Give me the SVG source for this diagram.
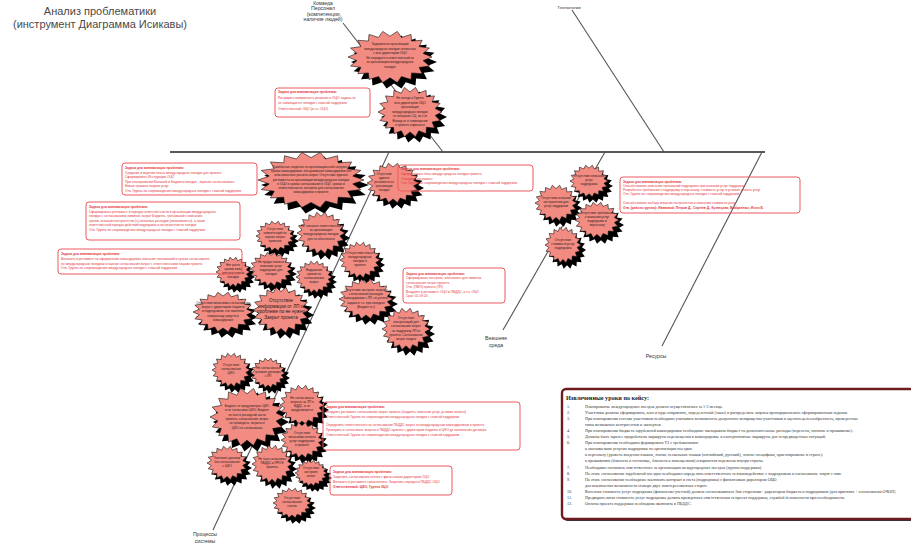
<svg xmlns="http://www.w3.org/2000/svg" xmlns:xlink="http://www.w3.org/1999/xlink" width="911" height="544" viewBox="0 0 911 544">
<style>
.bf{fill:#f28c82;stroke:#111;stroke-width:0.6}
.sh{fill:#000;stroke:none}
.bt{font-family:"Liberation Sans",Arial,sans-serif;font-size:3.1px;fill:#2a1a1a;text-anchor:middle}
.tb{fill:none;stroke:#ee5a5f;stroke-width:1;rx:3}
.tt{font-family:"Liberation Sans",Arial,sans-serif;font-size:3.2px;fill:#e3343c}
.tt .h{font-weight:bold}
.lbl{font-family:"Liberation Sans",Arial,sans-serif;font-size:5.2px;fill:#333;text-anchor:middle}
.ttl{font-family:"Liberation Sans",Arial,sans-serif;font-size:11px;fill:#4a4a4a;text-anchor:middle}
.bone{stroke:#555;stroke-width:1.1;fill:none}
.ls{font-family:"Liberation Serif","Times New Roman",serif;font-size:4.1px;fill:#333}
</style>
<defs>
<path id="burst" vector-effect="non-scaling-stroke" d="M1,0 L0.788,0.139 L0.94,0.342 L0.693,0.4 L0.766,0.643 L0.514,0.613 L0.5,0.866 L0.274,0.752 L0.174,0.985 L0,0.8 L-0.174,0.985 L-0.274,0.752 L-0.5,0.866 L-0.514,0.613 L-0.766,0.643 L-0.693,0.4 L-0.94,0.342 L-0.788,0.139 L-1,0 L-0.788,-0.139 L-0.94,-0.342 L-0.693,-0.4 L-0.766,-0.643 L-0.514,-0.613 L-0.5,-0.866 L-0.274,-0.752 L-0.174,-0.985 L0,-0.8 L0.174,-0.985 L0.274,-0.752 L0.5,-0.866 L0.514,-0.613 L0.766,-0.643 L0.693,-0.4 L0.94,-0.342 L0.788,-0.139 Z"/>
</defs>
<rect width="911" height="544" fill="#fff"/>

<g id="title">
<text class="ttl" x="100" y="15">Анализ проблематики</text>
<text class="ttl" x="100" y="28">(инструмент Диаграмма Исикавы)</text>
</g>

<g id="connectors">
<path d="M170,152 H765" stroke="#222" stroke-width="1.3" fill="none"/>
<path class="bone" d="M343,23 L443,152"/>
<path class="bone" d="M572,10 L664,152"/>
<path class="bone" d="M389,152 L213,530"/>
<path class="bone" d="M605,152 L503,330"/>
<path class="bone" d="M762,152 L662,346"/>
</g>

<g id="labels">
<text class="lbl" x="323" y="4.6" style="font-size:4.8px">Команда</text>
<text class="lbl" x="323" y="10">Персонал</text>
<text class="lbl" x="324" y="15.6">(компетенции,</text>
<text class="lbl" x="323" y="21.2">наличие людей)</text>
<text class="lbl" x="569" y="9" style="font-size:4.4px">Технологии</text>
<text class="lbl" x="496" y="340">Внешняя</text>
<text class="lbl" x="496" y="347">среда</text>
<text class="lbl" x="656" y="358">Ресурсы</text>
<text class="lbl" x="205" y="536">Процессы</text>
<text class="lbl" x="205" y="543">системы</text>
</g>

<g id="n1"><use href="#burst" class="sh" transform="translate(394,62) scale(43,27)"/><use href="#burst" class="bf" transform="translate(390,57) scale(42,26)"/>
<text class="bt" x="390" y="45"><tspan x="390">Задержки по организации</tspan><tspan x="390" dy="4.6">международных поездок связанных</tspan><tspan x="390" dy="4.6">с мне директором ОЦО</tspan><tspan x="390" dy="4.6">Не передается ответственный за</tspan><tspan x="390" dy="4.6">за организацию международных</tspan><tspan x="390" dy="4.6">поездок</tspan></text></g>

<g id="n2"><use href="#burst" class="sh" transform="translate(414,117) scale(33,26)"/><use href="#burst" class="bf" transform="translate(410,112) scale(32,25)"/>
<text class="bt" x="410" y="99"><tspan x="410">Не всегда в Группе</tspan><tspan x="410" dy="4.5">мне директором ОЦО</tspan><tspan x="410" dy="4.5">организация</tspan><tspan x="410" dy="4.5">международных поездок</tspan><tspan x="410" dy="4.5">не получала СЦ, ни к от</tspan><tspan x="410" dy="4.5">Вывод не о совмещение</tspan><tspan x="410" dy="4.5">в проекте и финансе</tspan></text></g>

<g id="n3"><use href="#burst" class="sh" transform="translate(315,185) scale(54,29)"/><use href="#burst" class="bf" transform="translate(311,180) scale(53,28)"/>
<text class="bt" x="311" y="168"><tspan x="311">Ошибочные сведения по организационной нагрузке и</tspan><tspan x="311" dy="4.2">сроках командировки, обслуживания командировки без</tspan><tspan x="311" dy="4.2">обоснованного расчета затрат. Отсутствие единого</tspan><tspan x="311" dy="4.2">регламента по организации международных поездок</tspan><tspan x="311" dy="4.2">в ОЦО и сроках согласования в ОЦО, сроках и</tspan><tspan x="311" dy="4.2">ответственности, контроля для согласования</tspan><tspan x="311" dy="4.2">командировок в проекте</tspan></text></g>

<g id="n4"><use href="#burst" class="sh" transform="translate(397,188) scale(27,21)"/><use href="#burst" class="bf" transform="translate(393,183) scale(26,20)"/>
<text class="bt" x="384" y="175" style="font-size:2.9px"><tspan x="384">Отсутствие</tspan><tspan x="384" dy="4.1">единого</tspan><tspan x="384" dy="4.1">регламента по</tspan><tspan x="384" dy="4.1">организации</tspan><tspan x="384" dy="4.1">поездок</tspan></text></g>

<g id="n5"><use href="#burst" class="sh" transform="translate(279,241) scale(20,16)"/><use href="#burst" class="bf" transform="translate(275,236) scale(19,15)"/>
<text class="bt" x="275" y="230"><tspan x="275">Отсутствие</tspan><tspan x="275" dy="4.1">компетенций по</tspan><tspan x="275" dy="4.1">оценке затрат</tspan><tspan x="275" dy="4.1">проектов</tspan></text></g>

<g id="n6"><use href="#burst" class="sh" transform="translate(325,238) scale(25,22)"/><use href="#burst" class="bf" transform="translate(321,233) scale(24,21)"/>
<text class="bt" x="321" y="227"><tspan x="321">Не назначен ответственный</tspan><tspan x="321" dy="4.2">за организацию</tspan><tspan x="321" dy="4.2">международных поездок</tspan><tspan x="321" dy="4.2">для не обеспечено</tspan></text></g>

<g id="n7"><use href="#burst" class="sh" transform="translate(364,265) scale(21,19)"/><use href="#burst" class="bf" transform="translate(360,260) scale(20,18)"/>
<text class="bt" x="360" y="254"><tspan x="360">Отсутствие плана</tspan><tspan x="360" dy="4.1">международных</tspan><tspan x="360" dy="4.1">поездок в</tspan><tspan x="360" dy="4.1">проекте</tspan></text></g>

<g id="n8"><use href="#burst" class="sh" transform="translate(237,277) scale(18,16)"/><use href="#burst" class="bf" transform="translate(233,272) scale(17,15)"/>
<text class="bt" x="233" y="266"><tspan x="233">Нет учёта</tspan><tspan x="233" dy="4.1">сроков визы</tspan><tspan x="233" dy="4.1">для участников</tspan><tspan x="233" dy="4.1">поездки</tspan></text></g>

<g id="n9"><use href="#burst" class="sh" transform="translate(275,274) scale(22,18)"/><use href="#burst" class="bf" transform="translate(271,269) scale(21,17)"/>
<text class="bt" x="271" y="263"><tspan x="271">Не предоставлено</tspan><tspan x="271" dy="4.1">описание услуг</tspan><tspan x="271" dy="4.1">подрядчика для</tspan><tspan x="271" dy="4.1">поездки</tspan></text></g>

<g id="n10"><use href="#burst" class="sh" transform="translate(318,282) scale(19,17)"/><use href="#burst" class="bf" transform="translate(314,277) scale(18,16)"/>
<text class="bt" x="314" y="271"><tspan x="314">Нарушение</tspan><tspan x="314" dy="4.1">сроков по</tspan><tspan x="314" dy="4.1">согласованию</tspan><tspan x="314" dy="4.1">затрат</tspan></text></g>

<g id="n11"><use href="#burst" class="sh" transform="translate(227,317) scale(31,21)"/><use href="#burst" class="bf" transform="translate(223,312) scale(30,20)"/>
<text class="bt" x="223" y="304"><tspan x="223">Отсутствие механизма согласования</tspan><tspan x="223" dy="4.2">затрат с директором бюджета</tspan><tspan x="223" dy="4.2">и подрядчиком, что повлекло</tspan><tspan x="223" dy="4.2">перерасход средств в</tspan><tspan x="223" dy="4.2">командировке</tspan></text></g>

<g id="n12"><use href="#burst" class="sh" transform="translate(285,315) scale(29,24)"/><use href="#burst" class="bf" transform="translate(281,310) scale(28,23)"/>
<text class="bt" x="281" y="302" style="font-size:4.6px"><tspan x="281">Отсутствие</tspan><tspan x="281" dy="5.5">информации от ЛП о</tspan><tspan x="281" dy="5.5">проблеме по не нужно</tspan><tspan x="281" dy="5.5">Закрыт проекта</tspan></text></g>

<g id="n13"><use href="#burst" class="sh" transform="translate(370,304) scale(28,21)"/><use href="#burst" class="bf" transform="translate(366,299) scale(27,20)"/>
<text class="bt" x="366" y="291"><tspan x="366">Отсутствие контроля затрат и</tspan><tspan x="366" dy="4.2">согласования расходов</tspan><tspan x="366" dy="4.2">командировки с ЛП, не учтены</tspan><tspan x="366" dy="4.2">задачи в т.ч. при поездках</tspan><tspan x="366" dy="4.2">(Бюджет и с)</tspan></text></g>

<g id="n14"><use href="#burst" class="sh" transform="translate(410,334) scale(25,22)"/><use href="#burst" class="bf" transform="translate(406,329) scale(24,21)"/>
<text class="bt" x="406" y="319"><tspan x="406">Отсутствие</tspan><tspan x="406" dy="4.2">консультаций для</tspan><tspan x="406" dy="4.2">согласования затрат</tspan><tspan x="406" dy="4.2">на поддержку ЛП от</tspan><tspan x="406" dy="4.2">проекта. Согласование</tspan><tspan x="406" dy="4.2">затрат поздно</tspan></text></g>

<g id="n15"><use href="#burst" class="sh" transform="translate(593,186) scale(20,17)"/><use href="#burst" class="bf" transform="translate(589,181) scale(19,16)"/>
<text class="bt" x="589" y="177"><tspan x="589">Отсутствие описания</tspan><tspan x="589" dy="4.1">услуг</tspan><tspan x="589" dy="4.1">подрядчика</tspan></text></g>

<g id="n16"><use href="#burst" class="sh" transform="translate(560,208) scale(22,19)"/><use href="#burst" class="bf" transform="translate(556,203) scale(21,18)"/>
<text class="bt" x="556" y="199"><tspan x="556">Отсутствие внешних</tspan><tspan x="556" dy="4.1">контрагентов для</tspan><tspan x="556" dy="4.1">услуг поддержки</tspan></text></g>

<g id="n17"><use href="#burst" class="sh" transform="translate(601,225) scale(23,19)"/><use href="#burst" class="bf" transform="translate(597,220) scale(22,18)"/>
<text class="bt" x="597" y="214"><tspan x="597">Отсутствие требований</tspan><tspan x="597" dy="4.1">к оказанию услуг</tspan><tspan x="597" dy="4.1">подрядчика и</tspan><tspan x="597" dy="4.1">персоналу</tspan></text></g>

<g id="n18"><use href="#burst" class="sh" transform="translate(567,250) scale(19,19)"/><use href="#burst" class="bf" transform="translate(563,245) scale(18,18)"/>
<text class="bt" x="563" y="241"><tspan x="563">Отсутствие</tspan><tspan x="563" dy="4.1">стоимости услуг</tspan><tspan x="563" dy="4.1">подрядчика</tspan></text></g>

<g id="n19"><use href="#burst" class="sh" transform="translate(235,375) scale(20,18)"/><use href="#burst" class="bf" transform="translate(231,370) scale(19,17)"/>
<text class="bt" x="231" y="366"><tspan x="231">Отсутствие</tspan><tspan x="231" dy="4.1">согласования</tspan><tspan x="231" dy="4.1">ЦФО</tspan></text></g>

<g id="n20"><use href="#burst" class="sh" transform="translate(272,378) scale(18,16)"/><use href="#burst" class="bf" transform="translate(268,373) scale(17,15)"/>
<text class="bt" x="268" y="369"><tspan x="268">Не согласованы</tspan><tspan x="268" dy="4.1">условия договора</tspan><tspan x="268" dy="4.1">с ЛП</tspan></text></g>

<g id="n21"><use href="#burst" class="sh" transform="translate(251,422) scale(38,30)"/><use href="#burst" class="bf" transform="translate(247,417) scale(37,29)"/>
<text class="bt" x="247" y="407"><tspan x="247">Бюджет не предусмотрен ЦФО</tspan><tspan x="247" dy="4.3">и не согласован ЦФО. Бюджет</tspan><tspan x="247" dy="4.3">не был в расходной части</tspan><tspan x="247" dy="4.3">проекта, согласование затрат</tspan><tspan x="247" dy="4.3">не проведено, затраты в</tspan><tspan x="247" dy="4.3">ЦФО не согласованы</tspan></text></g>

<g id="n22"><use href="#burst" class="sh" transform="translate(306,410) scale(23,21)"/><use href="#burst" class="bf" transform="translate(302,405) scale(22,20)"/>
<text class="bt" x="302" y="399"><tspan x="302">Не согласованы</tspan><tspan x="302" dy="4.1">затраты на ЛП в</tspan><tspan x="302" dy="4.1">БДДС, и не</tspan><tspan x="302" dy="4.1">предусмотрено</tspan></text></g>

<g id="n23"><use href="#burst" class="sh" transform="translate(306,445) scale(22,19)"/><use href="#burst" class="bf" transform="translate(302,440) scale(21,18)"/>
<text class="bt" x="302" y="434"><tspan x="302">Отсутствие</tspan><tspan x="302" dy="4.1">механизма оплаты</tspan><tspan x="302" dy="4.1">услуг подрядчика</tspan><tspan x="302" dy="4.1">в проекте</tspan></text></g>

<g id="n24"><use href="#burst" class="sh" transform="translate(231,468) scale(21,18)"/><use href="#burst" class="bf" transform="translate(227,463) scale(20,17)"/>
<text class="bt" x="227" y="459"><tspan x="227">Заключен договор</tspan><tspan x="227" dy="4.1">без согласования</tspan><tspan x="227" dy="4.1">с ЦФО</tspan></text></g>

<g id="n25"><use href="#burst" class="sh" transform="translate(276,469) scale(21,20)"/><use href="#burst" class="bf" transform="translate(272,464) scale(20,19)"/>
<text class="bt" x="272" y="460"><tspan x="272">Не был согласован</tspan><tspan x="272" dy="4.1">ПБДДС и ПРОФ</tspan><tspan x="272" dy="4.1">проекта</tspan></text></g>

<g id="n26"><use href="#burst" class="sh" transform="translate(315,478) scale(17,14)"/><use href="#burst" class="bf" transform="translate(311,473) scale(16,13)"/>
<text class="bt" x="311" y="469"><tspan x="311">Отсутствие</tspan><tspan x="311" dy="4.1">контроля</tspan><tspan x="311" dy="4.1">оплат</tspan></text></g>

<g id="n27"><use href="#burst" class="sh" transform="translate(296,508) scale(20,16)"/><use href="#burst" class="bf" transform="translate(292,503) scale(19,15)"/>
<text class="bt" x="292" y="499"><tspan x="292">Отсутствие</tspan><tspan x="292" dy="4.1">согласования</tspan><tspan x="292" dy="4.1">счетов</tspan></text></g>

<g id="tA"><rect class="tb" x="275" y="88" width="95" height="29"/>
<text class="tt" x="278" y="93"><tspan x="278" class="h">Задача для минимизации проблемы:</tspan><tspan x="278" dy="5.5">Расширить возможность решения в ОЦО: задача не</tspan><tspan x="278" dy="5.5">не совмещается поездки с главной поддержки</tspan><tspan x="278" dy="5.5">Ответственный: ОЦО (и т.ч. ОЦО)</tspan></text></g>

<g id="tB"><rect class="tb" x="122" y="163" width="135" height="32"/>
<text class="tt" x="125" y="169"><tspan x="125" class="h">Задача для минимизации проблемы:</tspan><tspan x="125" dy="4.5">Создание и ведение плана международных поездок для проекта</tspan><tspan x="125" dy="4.5">Сформировать Инструкцию ОЦО</tspan><tspan x="125" dy="4.5">При планировании Внешней и Бюджета поездок - заранее согласовывать</tspan><tspan x="125" dy="4.5">Новые правила закупок услуг</tspan><tspan x="125" dy="4.5">Отв. Группа по сопровождению международных поездок с главной поддержки</tspan></text></g>

<g id="tC"><rect class="tb" x="86" y="202" width="154" height="38"/>
<text class="tt" x="89" y="208"><tspan x="89" class="h">Задача для минимизации проблемы:</tspan><tspan x="89" dy="4.6">Сформировать регламент и порядок ответственности и организации международных</tspan><tspan x="89" dy="4.6">поездок с согласованием лимитов, затрат Бюджета, требований к описанию</tspan><tspan x="89" dy="4.6">сроков, внешних контрагентов (с) ключевых расходов (оплачивается), а также</tspan><tspan x="89" dy="4.6">ответственный порядок действий подрядчика и контрагентов по поездке</tspan><tspan x="89" dy="4.6">Отв. Группа по сопровождению международных поездок с главной поддержки</tspan></text></g>

<g id="tD"><rect class="tb" x="58" y="249" width="184" height="25"/>
<text class="tt" x="61" y="255"><tspan x="61" class="h">Задача для минимизации проблемы:</tspan><tspan x="61" dy="4.8">Включить в регламент по оформлению командировок описание полномочий и сроков согласования</tspan><tspan x="61" dy="4.8">по международным поездкам и оценки согласования затрат с ответственными лицами проекта</tspan><tspan x="61" dy="4.8">Отв. Группа по сопровождению международных поездок с главной поддержки</tspan></text></g>

<g id="tE"><rect class="tb" x="398" y="165" width="135" height="26"/>
<text class="tt" x="401" y="170"><tspan x="401" class="h">Задача для минимизации проблемы:</tspan><tspan x="401" dy="4.8">Сформировать план международных поездок проекта</tspan><tspan x="401" dy="4.8">Утвердить регламент</tspan><tspan x="401" dy="4.8">Отв. Группа по сопровождению международных поездок с главной поддержки</tspan></text></g>

<g id="tF"><rect class="tb" x="403" y="268" width="102" height="35"/>
<text class="tt" x="406" y="275"><tspan x="406" class="h">Задача для минимизации проблемы:</tspan><tspan x="406" dy="4.4">Сформировать контроль, обеспечить для лимитов</tspan><tspan x="406" dy="4.4">согласования затрат проекта</tspan><tspan x="406" dy="4.4">Отв. (ПМО) проекта (ЛП)</tspan><tspan x="406" dy="4.4">Внедрить в регламент ОЦО и ПБДДС, в т.ч. ОЦО</tspan><tspan x="406" dy="4.4">Срок: 01.09.20</tspan></text></g>

<g id="tG"><rect class="tb" x="323" y="402" width="197" height="48"/>
<text class="tt" x="326" y="408"><tspan x="326" class="h">Задача для минимизации проблемы:</tspan><tspan x="326" dy="5">Внедрить регламент согласования затрат проекта (бюджета, описание услуг, условия оплаты)</tspan><tspan x="326" dy="5">Ответственный: Группа по сопровождению международных поездок с главной поддержки</tspan><tspan x="326" dy="8">Определить ответственного за согласование ПБДДС затрат по международным командировкам в проекте</tspan><tspan x="326" dy="5">Проверить и согласовать затраты в ПБДДС проекта с директором бюджета и ЦФО до заключения договора</tspan><tspan x="326" dy="5">Ответственный: Группа по сопровождению международных поездок с главной поддержки</tspan></text></g>

<g id="tH"><rect class="tb" x="330" y="466" width="122" height="29"/>
<text class="tt" x="333" y="473"><tspan x="333" class="h">Задача для минимизации проблемы:</tspan><tspan x="333" dy="5">Закрепить согласование счетов с финансовым директором ОЦО</tspan><tspan x="333" dy="5">Включить в регламент сроки оплаты. Закрепить порядок в ПБДДС ОЦО</tspan><tspan x="333" dy="5" class="h">Ответственный: ЦФО, Группа ОЦО</tspan></text></g>

<g id="tR"><rect class="tb" x="620" y="177" width="180" height="36"/>
<text class="tt" x="623" y="183"><tspan x="623" class="h">Задача для минимизации проблемы:</tspan><tspan x="623" dy="4">Способствовать описанию требований подрядчика при оказании услуг поддержки</tspan><tspan x="623" dy="4">Разработать требования к подрядчику и персоналу, стоимость услуг и условия оплаты услуг</tspan><tspan x="623" dy="4">Отв. Группа по сопровождению международных поездок с главной поддержки</tspan><tspan x="623" dy="8.5">Способствовать выбору внешних контрагентов и описанию стоимости услуг</tspan><tspan x="623" dy="5.5" class="h">Отв. (работа группы): Ивановой, Петров Д., Сергеев Д., Кузнецова, Выбранных, Итого Б.</tspan></text></g>

<g id="lessons">
<rect x="564" y="391" width="352" height="130" rx="4" fill="#333"/>
<rect x="562" y="389" width="352" height="130" rx="4" fill="#fff" stroke="#6e1c1f" stroke-width="2.4"/>
<text x="566" y="400" style="font-family:'Liberation Serif','Times New Roman',serif;font-size:6.2px;font-weight:bold;fill:#222">Извлеченные уроки по кейсу:</text>
<text class="ls" y="407.5"><tspan x="567">1.</tspan><tspan x="585">Планирование международных поездок должно осуществляться за 1-2 месяца.</tspan></text>
<text class="ls" y="413.6"><tspan x="567">2.</tspan><tspan x="585">Участники должны сформировать, кого и куда отправлять, определенный (заказ) и распределить затраты пропорционально сформированным задачам.</tspan></text>
<text class="ls" y="419.7"><tspan x="567">3.</tspan><tspan x="585">При планировании состава участников необходимо учитывать возможность досрочного возвращения участников и оценить целесообразность, проверенные</tspan></text>
<text class="ls" y="425.8"><tspan x="585">типы возможных контрагентов и экспертов.</tspan></text>
<text class="ls" y="431.9"><tspan x="567">4.</tspan><tspan x="585">При планировании бюджета зарубежной командировки необходимо закладывать бюджет на дополнительные расходы (перелеты, питание и проживание).</tspan></text>
<text class="ls" y="438"><tspan x="567">5.</tspan><tspan x="585">Должны быть заранее проработаны маршруты перемещения в командировке и альтернативные маршруты для непредвиденных ситуаций.</tspan></text>
<text class="ls" y="444.1"><tspan x="567">6.</tspan><tspan x="585">При планировании необходимо формировать ТЗ с требованиями:</tspan></text>
<text class="ls" y="450.2"><tspan x="585">к оказываемым услугам подрядчика по организации поездки;</tspan></text>
<text class="ls" y="456.3"><tspan x="585">к персоналу (уровень владения языком, знание нескольких языков (английский, русский), знание специфики, ориентирование в стране);</tspan></text>
<text class="ls" y="462.4"><tspan x="585">к проживанию (близость к гостинице, близость к помещениям) и вариантов перевозок внутри страны.</tspan></text>
<text class="ls" y="468.5"><tspan x="567">7.</tspan><tspan x="585">Необходимо назначить ответственного за организацию международных поездок (группа поддержки).</tspan></text>
<text class="ls" y="474.6"><tspan x="567">8.</tspan><tspan x="585">На этапе согласования зарубежной поездки необходимо определить ответственного за взаимодействие с подрядчиком и согласование затрат с ним.</tspan></text>
<text class="ls" y="480.7"><tspan x="567">9.</tspan><tspan x="585">На этапе согласования необходимо заключить контракт и счета (подрядчика) с финансовым директором ОЦО</tspan></text>
<text class="ls" y="486.8"><tspan x="585">для исключения возможности сговора двух заинтересованных сторон.</tspan></text>
<text class="ls" y="492.9"><tspan x="567">10.</tspan><tspan x="585">Конечная стоимость услуг подрядчика (финансово-учетной) должна согласовываться 3мя сторонами - директором бюджета и подрядчиком (для принятия + согласования ОЧОП)</tspan></text>
<text class="ls" y="499"><tspan x="567">11.</tspan><tspan x="585">Предварительная стоимость услуг подрядчика должна проверяться ответственным за проект поддержки, службой безопасности при необходимости.</tspan></text>
<text class="ls" y="505.1"><tspan x="567">12.</tspan><tspan x="585">Оплаты проекта поддержки необходимо включить в ПБДДС.</tspan></text>
</g>
</svg>
